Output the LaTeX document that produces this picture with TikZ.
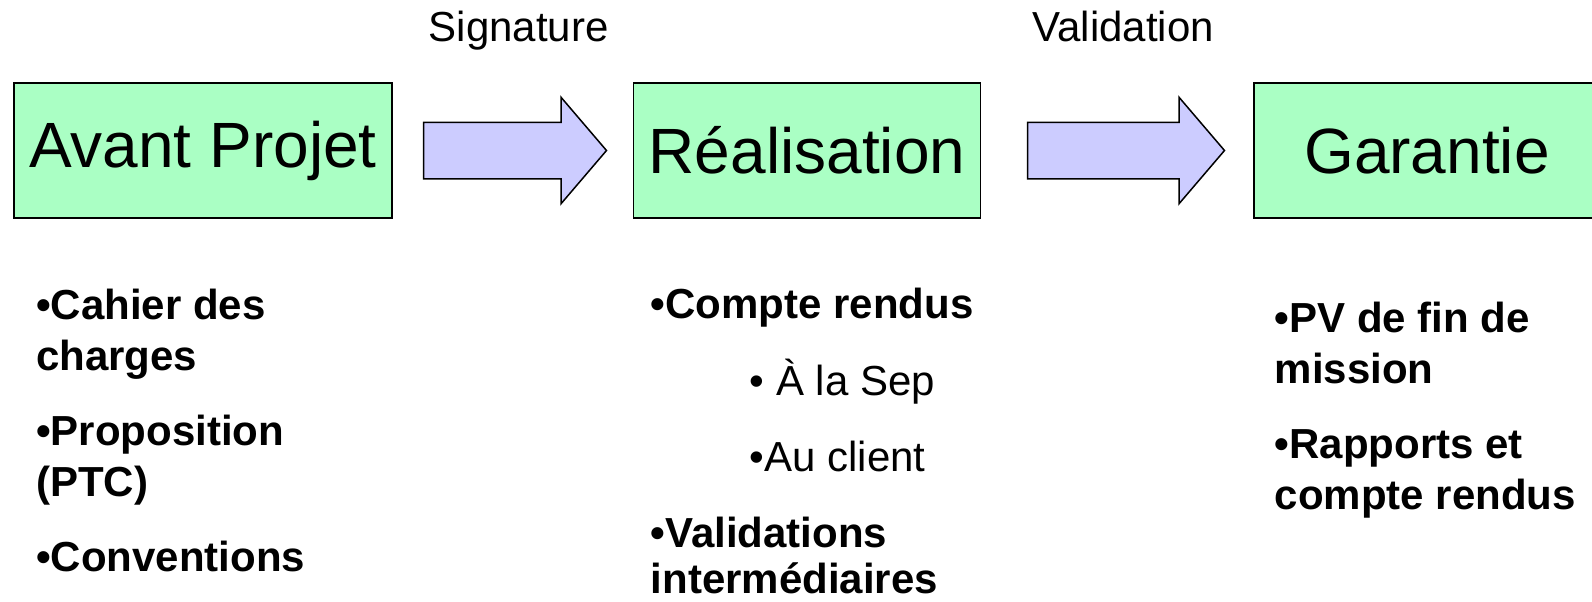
\documentclass[tikz,border=0pt]{standalone}
\usepackage{fontspec}
\setmainfont{Liberation Sans}
\usetikzlibrary{positioning,shapes.arrows,calc}
\definecolor{phasegreen}{RGB}{170,255,196}
\definecolor{flowblue}{RGB}{204,204,255}

\begin{document}
\begin{tikzpicture}[line width=0.75pt,
   phase/.style={draw, fill=phasegreen, minimum height=67.5pt, inner sep=0pt, font=\fontsize{32}{38}\selectfont},
   flow/.style={single arrow, draw, fill=flowblue, inner xsep=0pt, inner ysep=13.75pt, anchor=tail,
                single arrow head extend=12.5pt, single arrow tip angle=99},
   tag/.style={anchor=base, inner sep=0pt, font=\fontsize{21}{25}\selectfont},
   items/.style={anchor=base west, inner sep=0pt, align=left, font=\fontsize{21}{25.5}\selectfont\bfseries}]
   \useasboundingbox (0,0) rectangle (796pt,-300.5pt);
   \node [phase, minimum width=189pt] (ph_0) at (101.5pt,-75.25pt) {Avant Projet};
   \node [phase, minimum width=173.5pt, right=120pt of ph_0] (ph_1) {Réalisation};
   \node [phase, minimum width=173pt, right=136pt of ph_1] (ph_2) {Garantie};
   \coordinate (gap_0) at ($(ph_0.east)!0.5!(ph_1.west)$);
   \coordinate (gap_1) at ($(ph_1.east)!0.5!(ph_2.west)$);
   \node [flow, minimum height=91.5pt] (ar_0) at ([xshift=15pt]ph_0.east) {};
   \node [flow, minimum height=98.5pt] (ar_1) at ([xshift=22.75pt]ph_1.east) {};
   \node [tag] (sig) at ([xshift=3pt,yshift=54.5pt]gap_0) {Signature};
   \node [tag] (val) at ([xshift=3pt,yshift=54.5pt]gap_1) {Validation};
   \node [items] (li_0) at (17.75pt,-285.5pt)
      {•Cahier des\\ charges\\[12pt] •Proposition\\ (PTC)\\[12pt] •Conventions};
   \node [items] (li_1) at (325pt,-296.5pt)
      {•Compte rendus\\[13pt] {\mdseries\hspace*{49.5pt}• À la Sep}\\[12.5pt]
       {\mdseries\hspace*{49.5pt}•Au client}\\[12.5pt] •Validations\\[-2.5pt] intermédiaires};
   \node [items] (li_2) at (637pt,-254.5pt)
      {•PV de fin de\\ mission\\[12pt] •Rapports et\\ compte rendus};
\end{tikzpicture}
\end{document}
